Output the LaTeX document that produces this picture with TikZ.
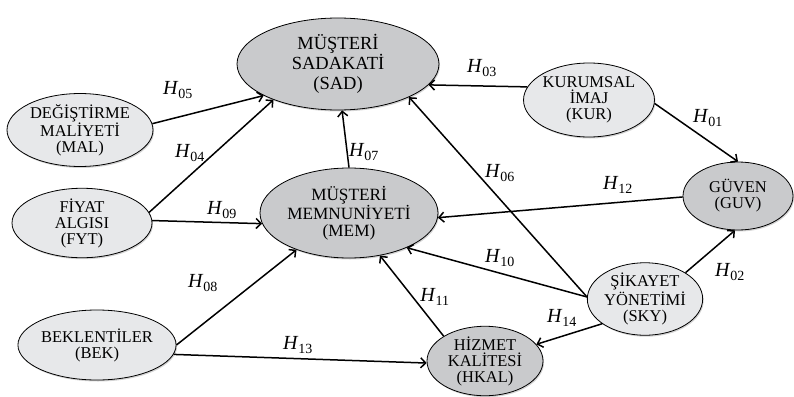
\documentclass[tikz,border=0pt]{standalone}
\usepackage{fontspec}
\setmainfont{Liberation Serif}
\usetikzlibrary{shapes.geometric}
\usetikzlibrary{arrows.meta,shadows}

\definecolor{darkfill}{HTML}{C9CACC}
\definecolor{lightfill}{HTML}{E7E8EA}

\begin{document}
\begin{tikzpicture}[x=1pt, y=-1pt, > = {Straight Barb[length=5pt,width=10pt]},
    konstrukt/.style={ellipse, draw, line width=0.8pt, inner sep=0pt, align=center,
        font=\fontsize{16.5}{16}\selectfont,
        drop shadow={opacity=0.35, shadow xshift=1pt, shadow yshift=-1.5pt}},
    ana/.style={konstrukt, fill=darkfill},
    yan/.style={konstrukt, fill=lightfill},
    yol/.style={->, line width=1.5pt},
    hip/.style={font=\fontsize{20}{20}\selectfont, inner sep=1pt}]
	\useasboundingbox (0,0) rectangle (794,396);
	
	% main constructs
	\node[ana, minimum width=202pt, minimum height=92pt, font=\fontsize{18.5}{20}\selectfont] (sad) at (338,64) {MÜŞTERİ\\SADAKATİ\\(SAD)};
	\node[ana, minimum width=178pt, minimum height=90pt, font=\fontsize{17.2}{17}\selectfont] (mem) at (349,213) {MÜŞTERİ\\MEMNUNİYETİ\\(MEM)};
	\node[ana, minimum width=110pt, minimum height=68pt] (guv) at (738,196) {GÜVEN\\(GUV)};
	\node[ana, minimum width=116pt, minimum height=68pt] (hkal) at (485,361) {HİZMET\\KALİTESİ\\(HKAL)};
	
	% other constructs
	\node[yan, minimum width=146pt, minimum height=64pt] (mal) at (80,130) {DEĞİŞTİRME\\MALİYETİ\\(MAL)};
	\node[yan, minimum width=140pt, minimum height=64pt] (fyt) at (82,223) {FİYAT\\ALGISI\\(FYT)};
	\node[yan, minimum width=136pt, minimum height=70pt] (bek) at (97,345) {BEKLENTİLER\\(BEK)};
	\node[yan, minimum width=128pt, minimum height=74pt] (kur) at (589,100) {KURUMSAL\\İMAJ\\(KUR)};
	\node[yan, minimum width=114pt, minimum height=68pt] (sky) at (645,299) {ŞİKAYET\\YÖNETİMİ\\(SKY)};
	
	% paths
	\draw[yol] (kur.357) -- (guv.north); % H01
	\draw[yol] (sky.33) -- (guv.265); % H02
	\draw[yol] (kur.168) -- (sad.347); % H03
	\draw[yol] (fyt.9) -- (sad.209); % H04
	\draw[yol] (mal.5) -- (sad.203); % H05
	\draw[yol] (sky.178) -- (sad.335); % H06
	\draw[yol] (mem.north) -- (sad.275); % H07
	\draw[yol] (bek.east) -- (mem.215); % H08
	\draw[yol] (fyt.2) -- (mem.187); % H09
	\draw[yol] (sky.178) -- (mem.329); % H10
	\draw[yol] (hkal.149) -- (mem.306); % H11
	\draw[yol] (guv.181) -- (mem.357); % H12
	\draw[yol] (bek.353) -- (hkal.182); % H13
	\draw[yol] (sky.210) -- (hkal.18); % H14
	
	% hypothesis labels
	\node[hip] (h01) at (708,118) {\textit{H}\textsubscript{01}};
	\node[hip] (h02) at (730,272) {\textit{H}\textsubscript{02}};
	\node[hip] (h03) at (482,68) {\textit{H}\textsubscript{03}};
	\node[hip] (h04) at (190,153) {\textit{H}\textsubscript{04}};
	\node[hip] (h05) at (178,90) {\textit{H}\textsubscript{05}};
	\node[hip] (h06) at (500,173) {\textit{H}\textsubscript{06}};
	\node[hip] (h07) at (364,152) {\textit{H}\textsubscript{07}};
	\node[hip] (h08) at (203,283) {\textit{H}\textsubscript{08}};
	\node[hip] (h09) at (222,210) {\textit{H}\textsubscript{09}};
	\node[hip] (h10) at (500,258) {\textit{H}\textsubscript{10}};
	\node[hip] (h11) at (435,297) {\textit{H}\textsubscript{11}};
	\node[hip] (h12) at (618,185) {\textit{H}\textsubscript{12}};
	\node[hip] (h13) at (298,345) {\textit{H}\textsubscript{13}};
	\node[hip] (h14) at (562,318) {\textit{H}\textsubscript{14}};
\end{tikzpicture}
\end{document}
